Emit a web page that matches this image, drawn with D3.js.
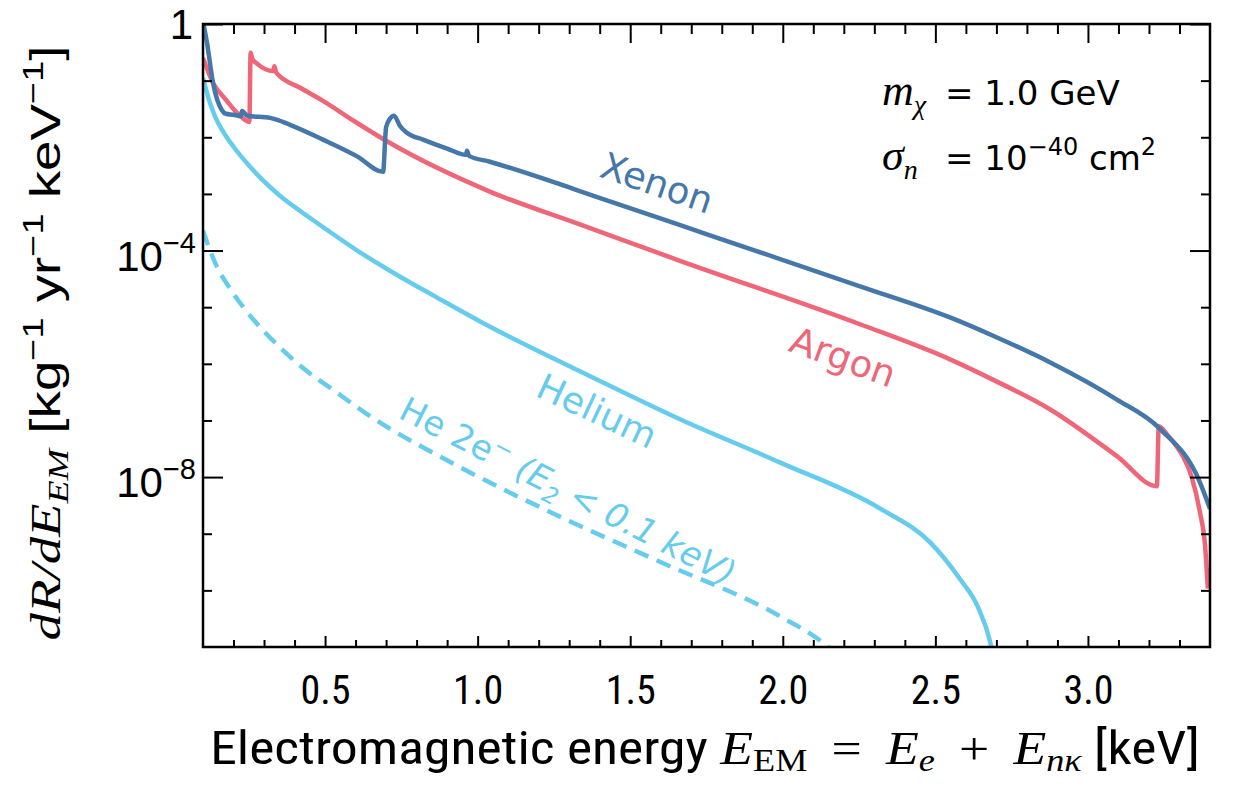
<!DOCTYPE html>
<html>
<head>
<meta charset="utf-8">
<script src="https://cdn.jsdelivr.net/npm/d3@7"></script>
<style>
  body { margin: 0; background: #fff; }
  svg { display: block; }
</style>
</head>
<body>
<svg id="chart" width="1233" height="786"></svg>
<script>
// Differential rate dR/dE_EM [kg^-1 yr^-1 keV^-1] versus electromagnetic energy [keV]
const xenonE    = [0.100, 0.113, 0.133, 0.162, 0.175, 0.200, 0.224, 0.228, 0.245, 0.320, 0.385, 0.493, 0.605, 0.690, 0.700, 0.712, 0.726, 0.745, 0.768, 0.821, 0.900, 0.962, 0.965, 0.972, 1.040, 1.443, 1.771, 2.253, 2.548, 2.700, 2.875, 3.095, 3.236, 3.367, 3.400];
const xenonRate = [1.1, 4.7e-1, 9.1e-2, 3.0e-2, 2.6e-2, 2.5e-2, 2.35e-2, 2.9e-2, 2.4e-2, 2.2e-2, 1.66e-2, 9.1e-3, 4.6e-3, 2.45e-3, 1.5e-2, 2.1e-2, 2.4e-2, 1.6e-2, 1.2e-2, 9.1e-3, 6.3e-3, 4.9e-3, 5.8e-3, 4.7e-3, 3.7e-3, 7.1e-4, 1.78e-4, 2.34e-5, 6.6e-6, 2.95e-6, 1.07e-6, 2.34e-7, 7.1e-8, 8.1e-9, 2.75e-9];

const argonE    = [0.100, 0.133, 0.175, 0.218, 0.252, 0.256, 0.262, 0.277, 0.330, 0.334, 0.340, 0.420, 0.493, 0.600, 0.713, 1.040, 1.335, 1.663, 2.253, 2.548, 2.700, 2.875, 3.095, 3.226, 3.232, 3.260, 3.290, 3.311, 3.340, 3.367, 3.384, 3.393];
const argonRate = [2.5e-1, 9.1e-2, 4.6e-2, 2.5e-2, 1.86e-2, 3.1e-1, 2.4e-1, 2.0e-1, 1.48e-1, 1.8e-1, 1.38e-1, 7.4e-2, 4.4e-2, 1.86e-2, 7.9e-3, 1.1e-3, 2.9e-4, 6.6e-5, 5.0e-6, 1.2e-6, 4.9e-7, 1.58e-7, 2.34e-8, 6.9e-9, 7.9e-8, 5.6e-8, 3.5e-8, 2.34e-8, 1.0e-8, 2.4e-9, 6.0e-10, 1.07e-10];

const heliumE    = [0.100, 0.120, 0.140, 0.166, 0.200, 0.250, 0.300, 0.350, 0.430, 0.510, 0.608, 0.729, 0.860, 1.008, 1.170, 1.335, 1.663, 1.990, 2.318, 2.482, 2.580, 2.640, 2.680, 2.700];
const heliumRate = [1.12e-1, 4.5e-2, 2.3e-2, 1.26e-2, 6.8e-3, 3.2e-3, 1.66e-3, 9.5e-4, 4.5e-4, 2.24e-4, 9.8e-5, 3.9e-5, 1.55e-5, 5.6e-6, 2.0e-6, 7.4e-7, 1.05e-7, 1.82e-8, 2.8e-9, 7.1e-10, 1.6e-10, 5.0e-11, 1.2e-11, 3.2e-12];

const heTwoE    = [0.100, 0.139, 0.195, 0.238, 0.293, 0.359, 0.434, 0.532, 0.630, 0.942, 1.270, 1.597, 1.990, 2.140, 2.170];
const heTwoRate = [2.24e-4, 6.2e-5, 1.9e-5, 9.1e-6, 4.1e-6, 1.8e-6, 7.9e-7, 3.3e-7, 1.38e-7, 1.5e-8, 2.0e-9, 3.2e-10, 3.5e-11, 1.1e-11, 8.0e-12];

const xMajorTicks  = [0.5, 1.0, 1.5, 2.0, 2.5, 3.0];
const xTickLabels  = ["0.5", "1.0", "1.5", "2.0", "2.5", "3.0"];
const xMinorTicks  = d3.range(2, 34).map(i => i / 10);
const yMajorExps   = [0, -4, -8];
const yMinorExps   = d3.range(-10, 0);

const colors = { xenon: "#4477AA", argon: "#EE6677", helium: "#66CCEE" };

const svg = d3.select("#chart");
const plot = { left: 203, right: 1210, top: 24, bottom: 647 };

const x = d3.scaleLinear().domain([0.1, 3.4]).range([plot.left, plot.right]);
const y = d3.scaleLog().domain([1e-11, 1]).range([plot.bottom, plot.top]);

const sansNarrow = "'Liberation Sans Narrow', 'Roboto Condensed', 'Liberation Sans', Arial, sans-serif";
const sans = "'Liberation Sans', Arial, sans-serif";
const wideSans = "'DejaVu Sans', 'Open Sans', sans-serif";
const serif = "'Liberation Serif', 'DejaVu Serif', serif";

// clip region for the curves
svg.append("defs").append("clipPath").attr("id", "plotClip")
  .append("rect")
  .attr("x", plot.left).attr("y", plot.top)
  .attr("width", plot.right - plot.left).attr("height", plot.bottom - plot.top);

const line = d3.line()
  .x(d => x(d[0]))
  .y(d => y(d[1]))
  .curve(d3.curveMonotoneX);

const curves = svg.append("g").attr("clip-path", "url(#plotClip)");

function drawSeries(es, rs, color, dash) {
  const pts = es.map((e, i) => [e, rs[i]]);
  const p = curves.append("path")
    .datum(pts)
    .attr("d", line)
    .attr("fill", "none")
    .attr("stroke", color)
    .attr("stroke-width", 4.5)
    .attr("stroke-linejoin", "round");
  if (dash) p.attr("stroke-dasharray", dash);
}

drawSeries(heTwoE, heTwoRate, colors.helium, "15,9");
drawSeries(heliumE, heliumRate, colors.helium);
drawSeries(argonE, argonRate, colors.argon);
drawSeries(xenonE, xenonRate, colors.xenon);

// axes: ticks point inward on all four sides
function styleAxis(g) {
  g.select(".domain").remove();
  g.selectAll(".tick line").attr("stroke", "#000").attr("stroke-width", 2);
}
const isMajorX = v => xMajorTicks.some(m => Math.abs(m - v) < 1e-6);

svg.append("g").attr("transform", `translate(0,${plot.bottom})`)
  .call(d3.axisBottom(x).tickValues(xMinorTicks.filter(v => !isMajorX(v))).tickSize(-7).tickFormat(""))
  .call(styleAxis);
svg.append("g").attr("transform", `translate(0,${plot.bottom})`)
  .call(d3.axisBottom(x).tickValues(xMajorTicks).tickSize(-11).tickFormat((d, i) => xTickLabels[i]).tickPadding(29))
  .call(styleAxis)
  .call(g => g.selectAll(".tick text")
    .attr("font-family", sansNarrow).attr("font-size", 40).attr("fill", "#000"));

svg.append("g").attr("transform", `translate(0,${plot.top})`)
  .call(d3.axisTop(x).tickValues(xMinorTicks.filter(v => !isMajorX(v))).tickSize(-10).tickFormat(""))
  .call(styleAxis);
svg.append("g").attr("transform", `translate(0,${plot.top})`)
  .call(d3.axisTop(x).tickValues(xMajorTicks).tickSize(-19).tickFormat(""))
  .call(styleAxis);

const yMinorVals = yMinorExps.filter(e => !yMajorExps.includes(e)).map(e => Math.pow(10, e));
const yMajorVals = yMajorExps.map(e => Math.pow(10, e));

svg.append("g").attr("transform", `translate(${plot.left},0)`)
  .call(d3.axisLeft(y).tickValues(yMinorVals).tickSize(-9).tickFormat(""))
  .call(styleAxis);
svg.append("g").attr("transform", `translate(${plot.left},0)`)
  .call(d3.axisLeft(y).tickValues(yMajorVals).tickSize(-20).tickFormat(""))
  .call(styleAxis);
svg.append("g").attr("transform", `translate(${plot.right},0)`)
  .call(d3.axisRight(y).tickValues(yMinorVals).tickSize(-9).tickFormat(""))
  .call(styleAxis);
svg.append("g").attr("transform", `translate(${plot.right},0)`)
  .call(d3.axisRight(y).tickValues(yMajorVals).tickSize(-20).tickFormat(""))
  .call(styleAxis);

// frame
svg.append("rect")
  .attr("x", plot.left).attr("y", plot.top)
  .attr("width", plot.right - plot.left).attr("height", plot.bottom - plot.top)
  .attr("fill", "none").attr("stroke", "#000").attr("stroke-width", 2.5);

// y tick labels with superscript exponents
const yLabels = svg.append("g");
yMajorExps.forEach(ex => {
  const yy = y(Math.pow(10, ex));
  if (ex === 0) {
    yLabels.append("text")
      .attr("x", 193).attr("y", yy + 15)
      .attr("text-anchor", "end")
      .attr("font-family", sans).attr("font-size", 42)
      .text("1");
  } else {
    const t = yLabels.append("text")
      .attr("x", 196).attr("y", yy + 20)
      .attr("text-anchor", "end")
      .attr("font-family", sans).attr("font-size", 42);
    t.append("tspan").text("10");
    t.append("tspan").attr("dy", -18).attr("font-size", 29).text("\u2212" + Math.abs(ex));
  }
});

// stretch a text element horizontally so it spans a given width about a centre
function fitWidth(sel, cx, target) {
  const w = sel.node().getBBox().width;
  const s = target / w;
  sel.attr("transform", `translate(${cx},0) scale(${s},1) translate(${-cx},0)`);
}

// x axis title
const xt = svg.append("text")
  .attr("x", 705).attr("y", 764)
  .attr("text-anchor", "middle")
  .attr("font-size", 46).attr("fill", "#000");
xt.append("tspan").attr("font-family", sansNarrow).text("Electromagnetic energy ");
xt.append("tspan").attr("font-family", serif).attr("font-style", "italic").text("E");
xt.append("tspan").attr("font-family", serif).attr("font-size", 31).attr("dy", 7).text("EM");
xt.append("tspan").attr("font-family", serif).attr("dy", -7).text(" \u2009=\u2009 ");
xt.append("tspan").attr("font-family", serif).attr("font-style", "italic").text("E");
xt.append("tspan").attr("font-family", serif).attr("font-style", "italic").attr("font-size", 31).attr("dy", 7).text("e");
xt.append("tspan").attr("font-family", serif).attr("dy", -7).text(" \u2009+\u2009 ");
xt.append("tspan").attr("font-family", serif).attr("font-style", "italic").text("E");
xt.append("tspan").attr("font-family", serif).attr("font-style", "italic").attr("font-size", 31).attr("dy", 7).text("n\u03BA");
xt.append("tspan").attr("font-family", sansNarrow).attr("dy", -7).text(" [keV]");
fitWidth(xt, 705, 990);

// y axis title
const ytG = svg.append("g").attr("transform", "translate(60,343) rotate(-90)");
const yt = ytG.append("text")
  .attr("x", 0).attr("y", 0)
  .attr("text-anchor", "middle")
  .attr("font-size", 42).attr("fill", "#000");
yt.append("tspan").attr("font-family", serif).attr("font-style", "italic").text("dR/dE");
yt.append("tspan").attr("font-family", serif).attr("font-style", "italic").attr("font-size", 29).attr("dy", 8).text("EM");
yt.append("tspan").attr("font-family", sans).attr("dy", -8).text(" [kg");
yt.append("tspan").attr("font-family", sans).attr("font-size", 29).attr("dy", -17).text("\u22121");
yt.append("tspan").attr("font-family", sans).attr("dy", 17).text(" yr");
yt.append("tspan").attr("font-family", sans).attr("font-size", 29).attr("dy", -17).text("\u22121");
yt.append("tspan").attr("font-family", sans).attr("dy", 17).text(" keV");
yt.append("tspan").attr("font-family", sans).attr("font-size", 29).attr("dy", -17).text("\u22121");
yt.append("tspan").attr("font-family", sans).attr("dy", 17).text("]");
fitWidth(yt, 0, 595);

// parameter annotation
const a1 = svg.append("text").attr("y", 105).attr("font-size", 34).attr("fill", "#000");
a1.append("tspan").attr("x", 882).attr("font-family", serif).attr("font-style", "italic").attr("font-size", 44).text("m");
a1.append("tspan").attr("font-family", serif).attr("font-style", "italic").attr("font-size", 28).attr("dy", 9).text("\u03C7");
a1.append("tspan").attr("x", 945).attr("font-family", wideSans).attr("dy", -9).text("= 1.0 GeV");

const a2 = svg.append("text").attr("y", 170).attr("font-size", 34).attr("fill", "#000");
a2.append("tspan").attr("x", 882).attr("font-family", serif).attr("font-style", "italic").attr("font-size", 44).text("\u03C3");
a2.append("tspan").attr("font-family", serif).attr("font-style", "italic").attr("font-size", 28).attr("dy", 9).text("n");
a2.append("tspan").attr("x", 945).attr("font-family", wideSans).attr("dy", -9).text("= 10");
a2.append("tspan").attr("font-family", wideSans).attr("font-size", 24).attr("dy", -15).text("\u221240");
a2.append("tspan").attr("font-family", wideSans).attr("dy", 15).text(" cm");
a2.append("tspan").attr("font-family", wideSans).attr("font-size", 24).attr("dy", -15).text("2");

// curve labels
function curveLabel(cx, cy, angle, color, size) {
  return svg.append("text")
    .attr("transform", `translate(${cx},${cy}) rotate(${angle})`)
    .attr("text-anchor", "middle")
    .attr("dy", "0.35em")
    .attr("font-family", wideSans)
    .attr("font-size", size)
    .attr("fill", color);
}
curveLabel(657, 183, 19, colors.xenon, 37).text("Xenon");
curveLabel(843, 357, 20, colors.argon, 37).text("Argon");
curveLabel(597, 411, 25, colors.helium, 36).text("Helium");
const heLab = curveLabel(568, 491, 27, colors.helium, 34);
heLab.append("tspan").text("He 2e");
heLab.append("tspan").attr("font-size", 23).attr("dy", -13).text("\u2212");
heLab.append("tspan").attr("dy", 13).attr("font-style", "italic").text(" (E");
heLab.append("tspan").attr("font-style", "italic").attr("font-size", 23).attr("dy", 8).text("2");
heLab.append("tspan").attr("font-style", "italic").attr("dy", -8).text(" < 0.1 keV)");
</script>
</body>
</html>
